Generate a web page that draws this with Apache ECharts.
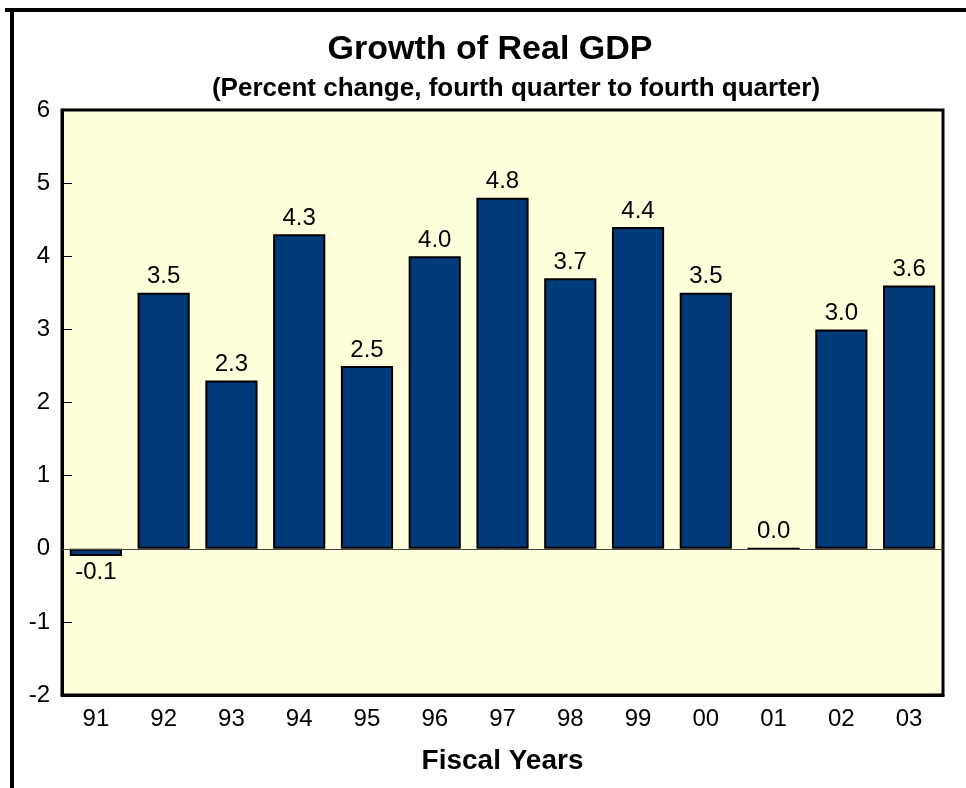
<!DOCTYPE html>
<html><head><meta charset="utf-8">
<script src="https://cdn.jsdelivr.net/npm/echarts@6/dist/echarts.min.js"></script>
<style>html,body{margin:0;padding:0;background:#fff}#c{width:966px;height:788px}</style>
</head><body><div id="c"></div>
<script>
const categories = ['91','92','93','94','95','96','97','98','99','00','01','02','03'];
const growth = [-0.1, 3.5, 2.3, 4.3, 2.5, 4.0, 4.8, 3.7, 4.4, 3.5, 0.0, 3.0, 3.6];
const yTicks = {min: -2, max: 6, interval: 1};
const titleText = 'Growth of Real GDP';
const subtitleText = '(Percent change, fourth quarter to fourth quarter)';
const xName = 'Fiscal Years';

const font = 'Liberation Sans, Arial, sans-serif';
const chart = echarts.init(document.getElementById('c'));
chart.setOption({
  animation: false,
  backgroundColor: '#ffffff',
  graphic: [
    {type: 'line', shape: {x1: 5, y1: 10, x2: 966, y2: 10}, style: {stroke: '#000', lineWidth: 4}},
    {type: 'line', shape: {x1: 12, y1: 8, x2: 12, y2: 788}, style: {stroke: '#000', lineWidth: 4}},
    {type: 'text', x: 490, y: 50, style: {text: titleText, fontFamily: font, fontSize: 34,
      fontWeight: 'bold', fill: '#000', textAlign: 'center', textVerticalAlign: 'middle'}},
    {type: 'text', x: 516, y: 89, style: {text: subtitleText, fontFamily: font, fontSize: 26,
      fontWeight: 'bold', fill: '#000', textAlign: 'center', textVerticalAlign: 'middle'}}
  ],
  grid: {left: 62, right: 23, top: 110, bottom: 93, show: true, containLabel: false,
         outerBoundsMode: 'none',
         backgroundColor: '#ffffdc', borderColor: '#000', borderWidth: 3},
  xAxis: {
    type: 'category', data: categories, position: 'bottom',
    axisLine: {onZero: false, lineStyle: {color: '#000', width: 3}},
    axisTick: {inside: true, length: 10, lineStyle: {color: '#000', width: 1}},
    axisLabel: {fontFamily: font, fontSize: 24, color: '#000', margin: 12},
    name: xName, nameLocation: 'middle', nameGap: 52,
    nameTextStyle: {fontFamily: font, fontSize: 28, fontWeight: 'bold', color: '#000'}
  },
  yAxis: {
    type: 'value', min: yTicks.min, max: yTicks.max, interval: yTicks.interval,
    axisLine: {show: true, lineStyle: {color: '#000', width: 3}},
    axisTick: {show: true, inside: true, length: 10, lineStyle: {color: '#000', width: 1}},
    axisLabel: {fontFamily: font, fontSize: 24, color: '#000', margin: 12},
    splitLine: {show: false}
  },
  series: [{
    type: 'bar', data: growth.map(v => ({value: v, label: {position: v < 0 ? 'bottom' : 'top'}})),
    barCategoryGap: '23%',
    itemStyle: {color: '#003a78', borderColor: '#000', borderWidth: 2},
    label: {show: true, fontFamily: font, fontSize: 24, color: '#000', distance: 4,
            formatter: p => p.value.toFixed(1)},
    markLine: {silent: true, symbol: 'none', label: {show: false},
               lineStyle: {color: '#444', width: 1, type: 'solid'},
               data: [{yAxis: 0}]},
    z: 3
  }]
});
</script></body></html>
